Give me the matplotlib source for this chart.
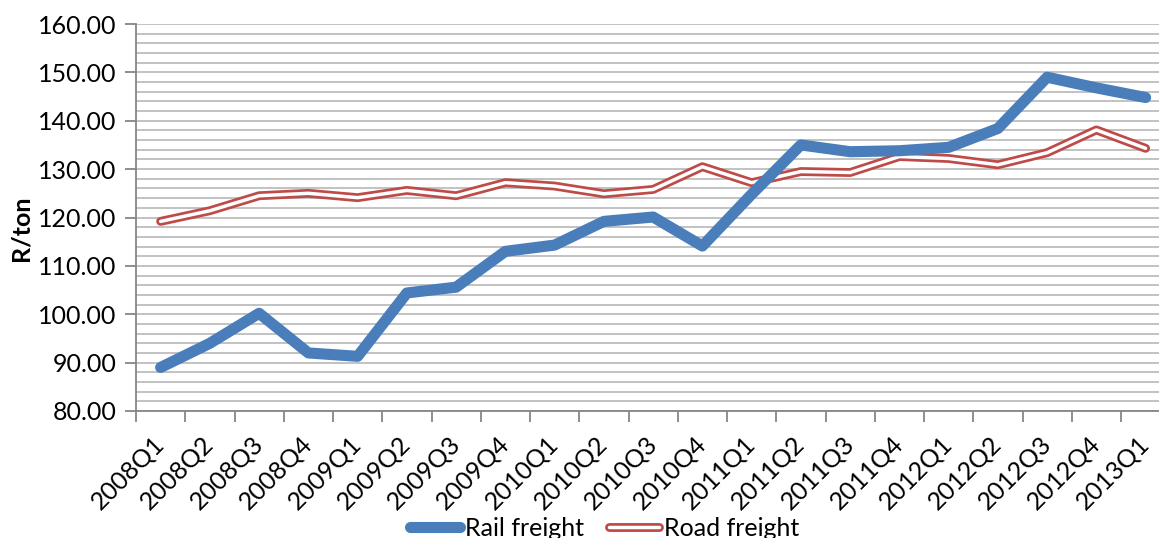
import matplotlib.pyplot as plt
from matplotlib.lines import Line2D
from matplotlib.ticker import MultipleLocator, FixedLocator

plt.rcParams['font.family'] = ['Lato', 'DejaVu Sans']

quarters = ['2008Q1', '2008Q2', '2008Q3', '2008Q4', '2009Q1', '2009Q2', '2009Q3',
            '2009Q4', '2010Q1', '2010Q2', '2010Q3', '2010Q4', '2011Q1', '2011Q2',
            '2011Q3', '2011Q4', '2012Q1', '2012Q2', '2012Q3', '2012Q4', '2013Q1']
rail = [89.0, 94.0, 100.2, 92.0, 91.3, 104.4, 105.6, 113.0, 114.3, 119.2, 120.1,
        114.1, 124.8, 135.0, 133.6, 133.8, 134.5, 138.4, 149.0, 146.8, 144.8]
road = [119.2, 121.4, 124.5, 125.0, 124.1, 125.6, 124.5, 127.2, 126.5, 124.9, 125.8,
        130.5, 127.2, 129.5, 129.3, 132.6, 132.2, 130.9, 133.4, 138.1, 134.3]

blue = '#4a7ebb'
red = '#be4b48'
FS = 18

fig = plt.figure(figsize=(11.59, 5.38), dpi=100)
W, H = 1159, 538
ax = fig.add_axes([136 / W, 1 - 411 / H, (21 * 49.25) / W, 387 / H])

x = list(range(len(quarters)))
ax.plot(x, road, color=red, lw=6.4, solid_capstyle='round', solid_joinstyle='round', zorder=3)
ax.plot(x, road, color='white', lw=2.5, solid_capstyle='round', solid_joinstyle='round', zorder=4)
ax.plot(x, rail, color=blue, lw=8.0, solid_capstyle='round', solid_joinstyle='round', zorder=5)

ax.set_xlim(-0.5, len(quarters) - 0.5)
ax.set_ylim(80, 160)
ax.yaxis.set_major_locator(MultipleLocator(10))
ax.yaxis.set_minor_locator(MultipleLocator(2))
ax.yaxis.set_major_formatter(lambda v, p: f'{v:.2f}')
ax.grid(which='both', axis='y', color='#bdbdbd', lw=1.3)
ax.set_axisbelow(True)

ax.set_xticks(x)
ax.set_xticklabels(quarters, rotation=45, ha='right', va='center',
                   rotation_mode='anchor', fontsize=FS)
ax.xaxis.set_minor_locator(FixedLocator([i - 0.5 for i in range(len(quarters) + 1)]))
ax.tick_params(axis='x', which='major', length=0, pad=21)
ax.tick_params(axis='x', which='minor', length=8, width=1.3, color='#868686')
ax.tick_params(axis='y', which='major', length=8, width=1.3, color='#868686', labelsize=FS, pad=6)
ax.tick_params(axis='y', which='minor', length=0)

for s in ['top', 'right']:
    ax.spines[s].set_visible(False)
ax.spines['left'].set_color('#868686')
ax.spines['left'].set_linewidth(1.3)
ax.spines['bottom'].set_color('#868686')
ax.spines['bottom'].set_linewidth(1.3)

fig.text(21 / W, 1 - 228 / H, 'R/ton', rotation=90, fontsize=FS, fontweight='bold',
         ha='center', va='center')

rail_h = Line2D([], [], color=blue, lw=8.0, solid_capstyle='round')
road_h = (Line2D([], [], color=red, lw=6.4, solid_capstyle='round'),
          Line2D([], [], color='white', lw=2.5, solid_capstyle='round'))
fig.legend([rail_h, road_h], ['Rail freight', 'Road freight'], loc='center',
           bbox_to_anchor=(0.522, 1 - 528 / H), ncol=2, frameon=False, fontsize=FS,
           handlelength=2.0, handletextpad=0.2, columnspacing=1.0)

fig.savefig('out.png', dpi=100)
